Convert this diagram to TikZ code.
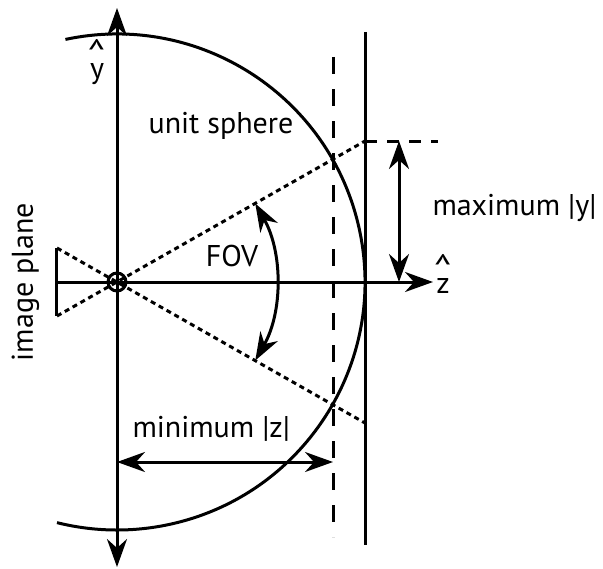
\documentclass[tikz,border=0pt]{standalone}
\usepackage{fontspec}
\setmainfont{PT Sans}
\usetikzlibrary{arrows.meta}

\newcommand{\hatmark}{{\fontsize{19}{19}\selectfont\textasciicircum}}

\begin{document}
\begin{tikzpicture}[x=0.5pt, y=0.5pt,
    line width=1.5pt,
    >={Stealth[length=14pt, width=10pt, inset=4.5pt]},
    ray/.style={dash pattern=on 2.5pt off 2pt},
    guide/.style={dash pattern=on 8.5pt off 7.5pt},
    lbl/.style={font=\fontsize{15}{18}\selectfont, inner sep=0pt},
    hatlbl/.style={lbl, align=center}
  ]
  \useasboundingbox (-117,-286) rectangle (486,282);

  \coordinate (O) at (0,0);
  \coordinate (ytop) at (0,274);
  \coordinate (ybot) at (0,-285);
  \coordinate (zleft) at (-60,0);
  \coordinate (zright) at (316,0);

  % axes
  \draw[<->] (ybot) -- (ytop);
  \draw[->] (zleft) -- (zright);

  % unit sphere
  \draw (O) ++(102:248) arc[start angle=102, end angle=-104, radius=248];

  % image plane and rays
  \coordinate (imgtop) at (-60,34);
  \coordinate (imgbot) at (-60,-34);
  \coordinate (raytop) at (248,141);
  \coordinate (raybot) at (248,-141);
  \draw (imgtop) -- (imgbot);
  \draw[ray] (imgbot) -- (raytop);
  \draw[ray] (imgtop) -- (raybot);
  \draw (O) circle[radius=9];
  \fill (O) circle[radius=2.5];

  % tangent plane and minimum plane
  \coordinate (tantop) at (248,250);
  \coordinate (tanbot) at (248,-263);
  \coordinate (mintop) at (216,225);
  \coordinate (minbot) at (216,-255);
  \draw (tantop) -- (tanbot);
  \draw[guide] (mintop) -- (minbot);

  % maximum |y|
  \coordinate (maxend) at (321,141);
  \coordinate (maxtop) at (282,141);
  \coordinate (maxbot) at (282,0);
  \draw[dash pattern=on 6pt off 5pt] (raytop) -- (maxend);
  \draw[<->] (maxtop) -- (maxbot);

  % minimum |z|
  \coordinate (minl) at (0,-180);
  \coordinate (minr) at (216,-180);
  \draw[<->] (minl) -- (minr);

  % field of view
  \draw[<->] (O) ++(29.6:159) arc[start angle=29.6, end angle=-29.6, radius=159];

  \node[lbl, anchor=base] (sphere) at (104,149) {unit sphere};
  \node[hatlbl] (yhat) at (-20,220) {\hatmark\\[-12pt]y};
  \node[hatlbl] (zhat) at (326,8) {\hatmark\\[-12pt]z};
  \node[lbl, anchor=base west] (maxlbl) at (314,67) {maximum |y|};
  \node[lbl, anchor=base] (fov) at (115,16) {FOV};
  \node[lbl, anchor=base west] (minlbl) at (14,-155) {minimum |z|};
  \node[lbl, anchor=base, rotate=90] (plane) at (-84,0) {image plane};
\end{tikzpicture}
\end{document}
